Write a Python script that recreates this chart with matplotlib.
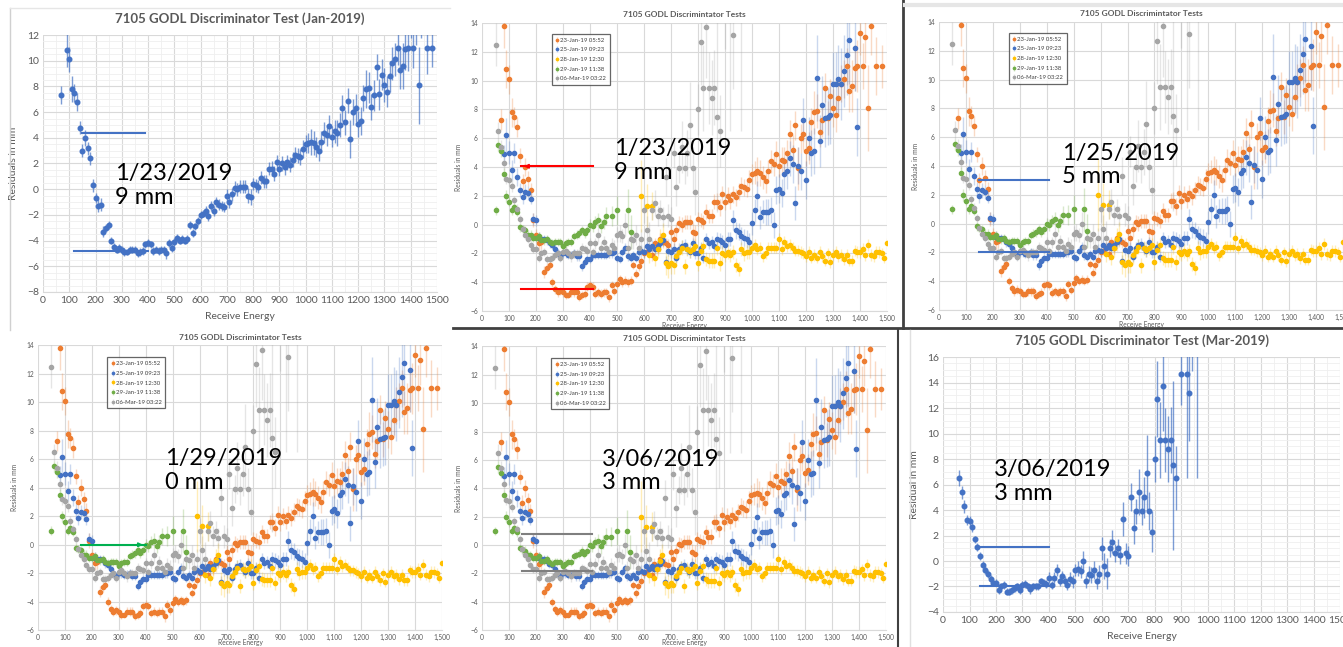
import matplotlib
matplotlib.use("Agg")
import matplotlib.pyplot as plt
from matplotlib.colors import to_rgba
from matplotlib.lines import Line2D
from matplotlib.ticker import FuncFormatter, MultipleLocator

plt.rcParams['font.family'] = ['Lato', 'DejaVu Sans']

# ---------------------------------------------------------------- data (x, residual, error)
jan23 = [(70,7.3,0.7),(80,13.8,1.5),(90,10.8,1.3),(100,10.1,1.0),(110,7.8,1.0),(120,7.5,0.7),(130,6.8,0.7),
         (140,4.8,0.5),(150,3.0,0.5),(160,4.0,0.6),(170,3.2,0.5),(180,2.4,0.5),(190,0.3,0.5),(200,-0.7,0.4),
         (210,-1.3,0.5),(220,-1.2,0.5),(230,-3.3,0.4),(240,-3.0,0.3),(250,-2.8,0.3),(260,-4.0,0.3),(270,-4.5,0.3),
         (280,-4.7,0.3),(290,-4.6,0.3),(300,-4.7,0.3),(310,-4.9,0.3),(320,-4.9,0.2),(330,-4.7,0.3),(340,-4.7,0.3),
         (350,-4.7,0.3),(360,-5.0,0.3),(370,-4.9,0.3),(380,-4.8,0.3),(390,-4.3,0.3),(400,-4.2,0.3),(410,-4.3,0.3),
         (420,-4.8,0.3),(430,-4.7,0.3),(440,-4.8,0.3),(450,-4.7,0.3),(460,-4.7,0.3),(470,-5.0,0.4),(480,-4.2,0.3),
         (490,-4.6,0.3),(500,-4.1,0.3),(510,-3.8,0.3),(520,-4.0,0.3),(530,-3.9,0.3),(540,-4.0,0.3),(550,-3.9,0.3),
         (560,-2.8,0.3),(570,-3.4,0.3),(580,-2.9,0.3),(590,-2.5,0.3),(600,-2.0,0.3),(610,-1.9,0.3),(620,-1.7,0.4),
         (630,-2.1,0.4),(640,-1.3,0.4),(650,-1.7,0.4),(660,-1.0,0.4),(670,-1.2,0.4),(680,-1.3,0.4),(690,-1.4,0.4),
         (700,-0.5,0.5),(710,-1.0,0.5),(720,-0.4,0.5),(730,0.1,0.5),(740,0.0,0.5),(750,0.2,0.5),(760,0.2,0.5),
         (770,0.2,0.5),(780,-0.5,0.6),(790,-0.6,0.6),(800,0.4,0.5),(810,0.3,0.5),(820,0.2,0.5),(830,0.9,0.5),
         (840,0.6,0.5),(850,0.6,0.5),(860,1.6,0.5),(870,1.6,0.6),(880,1.2,0.6),(890,2.1,0.6),(900,1.6,0.6),
         (910,2.0,0.6),(920,1.7,0.6),(930,2.1,0.6),(940,1.9,0.6),(950,2.3,0.6),(960,2.7,0.6),(970,2.6,0.6),
         (980,2.5,0.6),(990,3.1,0.7),(1000,3.5,0.7),(1010,3.6,0.8),(1020,3.7,1.0),(1030,3.6,0.9),(1040,3.3,0.8),
         (1050,3.0,0.8),(1060,3.7,0.8),(1070,4.4,0.8),(1080,4.2,0.8),(1090,4.9,0.9),(1100,4.1,0.8),(1110,4.5,0.9),
         (1120,4.4,1.0),(1130,5.0,0.9),(1140,6.3,1.0),(1150,5.2,1.0),(1160,6.9,1.0),(1170,3.9,1.5),(1180,6.0,1.0),
         (1190,6.3,1.1),(1200,5.1,1.0),(1210,5.3,1.1),(1220,7.1,1.0),(1230,7.8,1.5),(1240,7.9,1.2),(1250,6.4,1.0),
         (1260,7.3,1.2),(1270,9.5,1.0),(1280,7.4,1.2),(1290,8.9,1.2),(1300,8.1,1.3),(1310,7.6,1.2),(1320,8.8,1.2),
         (1330,9.8,1.3),(1340,10.1,1.3),(1350,11.0,1.3),(1360,9.3,1.5),(1370,9.6,1.8),(1380,10.9,1.6),
         (1390,11.0,1.8),(1400,13.3,1.5),(1410,11.0,1.6),(1420,13.0,1.8),(1430,8.1,3.0),(1440,13.8,2.0),
         (1460,11.0,2.0),(1480,11.0,1.5)]

jan25 = [(80,4.9,0.6),(90,6.2,1.2),(100,5.0,0.8),(110,3.8,0.7),(120,5.0,0.7),(130,3.3,0.6),(140,2.4,0.5),
         (150,1.9,0.5),(160,2.3,0.5),(170,2.2,0.5),(180,1.8,0.4),(190,0.4,0.4),(200,0.3,0.4),(210,-0.9,0.4),
         (220,-1.0,0.3),(230,-1.0,0.3),(240,-1.1,0.3),(250,-1.3,0.3),(260,-1.4,0.3),(270,-1.7,0.3),(280,-2.0,0.3),
         (290,-2.2,0.3),(300,-2.0,0.3),(310,-2.0,0.3),(320,-2.1,0.3),(330,-2.1,0.3),(340,-2.0,0.3),(350,-2.2,0.3),
         (360,-2.2,0.3),(370,-2.9,0.3),(380,-2.6,0.3),(390,-2.4,0.3),(400,-2.4,0.3),(410,-2.1,0.3),(420,-2.1,0.3),
         (430,-2.1,0.3),(440,-2.1,0.3),(450,-2.1,0.3),(460,-2.1,0.3),(470,-2.0,0.3),(480,-2.0,0.3),(490,-1.9,0.3),
         (500,-2.3,0.3),(510,-2.4,0.3),(520,-1.9,0.3),(530,-1.6,0.3),(540,-2.2,0.3),(550,-2.3,0.3),(560,-2.1,0.3),
         (570,-2.3,0.3),(580,-1.9,0.4),(590,-1.8,0.4),(600,-1.9,0.4),(610,-1.5,0.4),(620,-1.7,0.4),(630,-1.5,0.4),
         (640,-1.7,0.4),(650,-1.5,0.4),(660,-1.3,0.4),(670,-1.1,0.4),(680,-2.6,0.4),(690,-1.8,0.4),(700,-1.9,0.4),
         (710,-1.7,0.4),(720,-2.3,0.4),(730,-1.7,0.4),(740,-1.5,0.4),(750,-1.4,0.4),(760,-1.7,0.4),(770,-1.9,0.4),
         (780,-1.3,0.4),(790,-2.0,0.4),(800,-2.0,0.4),(810,-1.6,0.4),(820,-2.3,0.4),(830,-1.0,0.4),(840,-1.3,0.4),
         (850,-1.2,0.4),(860,-1.5,0.4),(870,-1.0,0.5),(880,-1.1,0.5),(890,-1.2,0.5),(900,-1.4,0.5),(910,-1.0,0.5),
         (920,-1.0,0.5),(930,0.3,0.7),(940,-0.4,0.6),(950,-0.5,0.6),(960,-0.8,0.6),(970,-0.9,0.6),(980,-1.0,0.6),
         (990,-1.2,0.6),(1000,0.1,0.8),(1010,1.0,0.8),(1020,2.0,1.0),(1030,0.5,0.8),(1040,0.9,0.8),(1050,0.9,0.9),
         (1060,0.9,0.9),(1070,1.0,0.9),(1080,0.0,0.9),(1090,2.4,1.0),(1100,2.5,1.0),(1110,2.2,1.0),(1120,3.5,1.2),
         (1130,3.7,1.2),(1140,4.6,1.2),(1150,4.2,1.3),(1160,1.5,1.2),(1170,4.1,1.3),(1180,3.7,1.3),(1190,7.3,1.5),
         (1200,3.1,1.3),(1210,6.0,1.5),(1220,5.0,1.6),(1230,5.1,1.6),(1240,10.2,3.0),(1250,5.8,1.8),(1260,8.3,2.0),
         (1270,7.4,2.0),(1280,7.5,2.0),(1290,7.6,2.0),(1300,9.8,2.2),(1310,9.8,2.2),(1320,10.1,2.4),(1330,9.8,2.5),
         (1340,10.7,2.5),(1350,11.8,2.8),(1360,12.8,3.0),(1380,12.3,3.0),(1390,6.8,2.0)]

jan28 = [(590,2.0,2.5),(610,1.3,1.5),(620,-2.1,0.6),(630,1.3,1.0),(640,-2.3,0.6),(650,-1.7,0.6),(660,-1.1,0.8),
         (670,-0.7,0.8),(680,-2.7,0.8),(690,-2.9,0.8),(700,-2.7,0.7),(710,-2.8,0.6),(720,-2.2,0.6),(730,-1.9,0.5),
         (740,-1.6,0.5),(750,-2.9,0.5),(760,-1.7,0.5),(770,-1.8,0.5),(780,-1.7,0.5),(790,-1.5,0.5),(800,-2.7,0.5),
         (810,-1.8,0.5),(820,-1.5,0.5),(830,-2.4,0.5),(840,-2.5,0.5),(850,-2.5,0.5),(860,-2.5,0.5),(870,-1.6,0.5),
         (880,-2.7,0.5),(890,-2.0,0.5),(900,-2.1,0.5),(910,-1.9,0.5),(920,-2.1,0.5),(930,-1.9,0.5),(940,-2.8,0.5),
         (950,-3.1,0.5),(960,-1.7,0.5),(970,-2.0,0.5),(980,-1.9,0.5),(990,-1.9,0.5),(1000,-1.6,0.4),(1010,-1.4,0.4),
         (1020,-1.7,0.4),(1030,-1.6,0.4),(1040,-2.2,0.4),(1050,-2.0,0.4),(1060,-1.6,0.4),(1070,-1.6,0.4),
         (1080,-1.6,0.4),(1090,-1.6,0.4),(1100,-1.0,0.4),(1110,-1.7,0.4),(1120,-1.2,0.4),(1130,-1.5,0.4),
         (1140,-1.4,0.4),(1150,-1.6,0.4),(1160,-1.8,0.4),(1170,-1.8,0.4),(1180,-1.9,0.4),(1190,-2.0,0.4),
         (1200,-2.2,0.4),(1210,-1.9,0.4),(1220,-2.3,0.4),(1230,-2.1,0.4),(1240,-2.3,0.4),(1250,-1.9,0.4),
         (1260,-2.2,0.4),(1270,-2.5,0.4),(1280,-2.0,0.4),(1290,-2.6,0.4),(1300,-2.1,0.4),(1310,-1.9,0.4),
         (1320,-2.2,0.4),(1330,-2.1,0.4),(1340,-2.4,0.4),(1350,-2.1,0.4),(1360,-2.5,0.4),(1370,-2.5,0.4),
         (1380,-1.8,0.4),(1390,-1.9,0.4),(1400,-1.9,0.4),(1410,-1.7,0.4),(1420,-2.1,0.4),(1430,-1.4,0.4),
         (1440,-2.1,0.4),(1450,-2.2,0.4),(1460,-1.9,0.4),(1470,-1.9,0.4),(1480,-2.0,0.4),(1490,-2.3,0.4),
         (1500,-1.3,0.4)]

jan29 = [(50,1.0,0.3),(60,5.5,0.4),(70,5.1,0.4),(80,3.5,0.4),(90,2.0,0.4),(100,1.6,0.3),(110,1.0,0.3),
         (120,1.2,0.3),(130,0.9,0.3),(140,-0.2,0.3),(150,-0.3,0.3),(160,-0.4,0.3),(170,-0.7,0.3),(180,-0.7,0.3),
         (190,-0.9,0.3),(200,-0.9,0.3),(210,-0.8,0.3),(220,-1.1,0.3),(230,-1.1,0.3),(240,-1.0,0.3),(250,-1.2,0.3),
         (260,-1.3,0.3),(270,-1.2,0.3),(280,-1.2,0.3),(290,-1.2,0.3),(300,-1.5,0.3),(310,-1.3,0.3),(320,-1.2,0.3),
         (330,-1.2,0.3),(340,-0.8,0.3),(350,-0.7,0.3),(360,-0.6,0.3),(370,-0.4,0.3),(380,-0.6,0.3),(390,-0.4,0.3),
         (400,0.0,0.4),(410,-0.1,0.4),(420,0.2,0.4),(430,0.3,0.5),(440,-0.1,0.5),(450,0.2,0.5),(460,0.6,0.6),
         (480,0.6,0.7),(500,1.0,1.0),(540,1.0,1.5),(550,-0.5,1.2)]

mar06 = [(50,12.5,1.5),(60,6.5,0.6),(70,5.4,0.5),(80,4.3,0.5),(90,3.2,0.4),(100,3.1,0.4),(110,2.7,0.4),
         (120,1.7,0.3),(130,1.1,0.3),(140,0.4,0.3),(150,-0.3,0.3),(160,-0.7,0.3),(170,-1.0,0.3),(180,-1.4,0.3),
         (190,-1.7,0.3),(200,-1.7,0.3),(210,-2.3,0.3),(220,-2.0,0.3),(230,-1.9,0.3),(240,-2.4,0.3),(250,-2.4,0.3),
         (260,-2.3,0.3),(270,-2.1,0.3),(280,-2.0,0.3),(290,-2.3,0.3),(300,-1.9,0.3),(310,-1.8,0.3),(320,-2.0,0.3),
         (330,-2.2,0.4),(340,-2.0,0.3),(350,-2.0,0.3),(360,-2.0,0.3),(370,-1.6,0.3),(380,-1.7,0.3),(390,-1.8,0.3),
         (400,-1.3,0.4),(410,-1.9,0.3),(420,-1.3,0.4),(430,-0.7,0.5),(440,-1.6,0.4),(450,-1.2,0.4),(460,-1.6,0.4),
         (470,-1.9,0.4),(480,-1.4,0.5),(490,-1.6,0.5),(500,-0.7,0.5),(510,-0.6,0.6),(520,-0.8,0.5),(530,0.0,0.8),
         (540,-1.6,0.5),(550,-1.0,0.6),(560,-1.1,0.6),(570,-0.7,0.7),(580,-1.6,0.6),(590,-1.0,0.7),(600,1.0,0.9),
         (610,-0.4,1.0),(620,-1.0,1.2),(630,1.0,0.7),(640,1.5,0.9),(650,0.6,0.7),(660,1.0,0.7),(670,0.5,0.7),
         (680,3.3,1.3),(690,0.6,0.8),(700,0.4,0.8),(710,5.0,1.1),(720,2.6,1.3),(730,3.9,1.0),(740,5.4,1.8),
         (750,3.9,1.1),(760,5.0,1.6),(770,6.9,3.0),(780,3.9,1.5),(790,2.3,1.6),(800,8.0,1.8),(810,12.7,3.0),
         (820,9.5,3.0),(830,13.7,3.5),(840,9.5,2.5),(850,8.8,2.6),(860,9.5,2.6),(870,7.5,6.6),(880,6.5,2.5),
         (900,14.7,2.5),(920,14.7,8.2),(930,13.2,3.8),(940,17.5,2.6),(960,19.0,12.5)]

series_labels = ["23-Jan-19 05:52", "25-Jan-19 09:23", "28-Jan-19 12:30", "29-Jan-19 11:38", "06-Mar-19 03:22"]
series_colors = ["#ED7D31", "#4472C4", "#FFC000", "#70AD47", "#A5A5A5"]
all_series = [jan23, jan25, jan28, jan29, mar06]

# level lines drawn on each panel: (x_start, x_end, y)
p1_levels = [(150, 390, 4.4), (120, 400, -4.8)]
p2_levels = [(145, 410, 4.05), (145, 410, -4.5)]
p3_levels = [(150, 410, 3.05), (150, 410, -1.95)]
p4_levels = [(160, 400, 0.0)]
p5_levels = [(150, 410, 0.75), (150, 410, -1.8)]
p6_levels = [(130, 400, 1.1), (140, 400, -1.95)]

GRID = "#d9d9d9"
TXT = "#595959"

fig = plt.figure(figsize=(13.43, 6.47), dpi=100)


def style(ax, ylim, yticks_step, fs, commas, minor):
    ax.set_xlim(0, 1500)
    ax.set_ylim(*ylim)
    ax.xaxis.set_major_locator(MultipleLocator(100))
    ax.yaxis.set_major_locator(MultipleLocator(yticks_step))
    if commas:
        ax.xaxis.set_major_formatter(FuncFormatter(lambda v, p: f"{v:,.0f}"))
    if minor:
        ax.xaxis.set_minor_locator(MultipleLocator(50))
        ax.yaxis.set_minor_locator(MultipleLocator(0.5))
        ax.grid(which="minor", color="#efefef", lw=0.6)
    ax.grid(which="major", color=GRID, lw=0.8)
    ax.set_axisbelow(True)
    for s in ["top", "right", "left"]:
        ax.spines[s].set_visible(False)
    ax.spines["bottom"].set_color(GRID)
    ax.tick_params(which="both", length=0, labelsize=fs, colors=TXT, pad=3)


def draw_levels(ax, levels, color, arrow=None):
    for x0, x1, y in levels:
        ax.plot([x0, x1], [y, y], color=color, lw=1.5, zorder=5)
    if arrow == "left":
        x0, x1, y = levels[0]
        ax.annotate("", xy=(x0, y), xytext=(x0 + 30, y),
                    arrowprops=dict(arrowstyle="-|>", color=color, lw=1.2, mutation_scale=6), zorder=6)
    if arrow == "right":
        x0, x1, y = levels[0]
        ax.annotate("", xy=(x1, y), xytext=(x1 - 30, y),
                    arrowprops=dict(arrowstyle="-|>", color=color, lw=1.2, mutation_scale=6), zorder=6)


def single_panel(rect, data, ylim, title, ylabel, levels, note, note_pos):
    ax = fig.add_axes(rect)
    x, y, e = zip(*data)
    ax.errorbar(x, y, yerr=e, fmt="o", ms=3.3, color="#4472C4",
                ecolor=to_rgba("#4472C4", 0.7), elinewidth=1.0, capsize=0, zorder=3)
    style(ax, ylim, 2, 7.5, False, True)
    ax.set_title(title, fontsize=9.5, color=TXT, fontweight="bold", pad=9)
    ax.set_ylabel(ylabel, fontsize=7.5, color=TXT, labelpad=6)
    ax.set_xlabel("Receive Energy", fontsize=7.5, color=TXT, labelpad=5)
    draw_levels(ax, levels, "#4472C4")
    ax.text(note_pos[0], note_pos[1], note, transform=ax.transAxes, fontsize=17,
            va="top", ha="left", linespacing=1.15, zorder=7)
    return ax


def multi_panel(rect, levels, lcolor, note, note_pos, leg_pos, arrow=None, xpad=0):
    ax = fig.add_axes(rect)
    for data, col, lab in zip(all_series, series_colors, series_labels):
        x, y, e = zip(*data)
        ax.errorbar(x, y, yerr=e, fmt="o", ms=3.0, color=col, ecolor=to_rgba(col, 0.28),
                    elinewidth=1.0, capsize=0, label=lab, zorder=3)
    style(ax, (-6, 14), 2, 4.8, True, False)
    ax.set_title("7105 GODL Discrimintator Tests", fontsize=6, color=TXT, fontweight="bold", pad=4)
    ax.set_ylabel("Residuals in mm", fontsize=4.8, color=TXT, labelpad=6)
    ax.set_xlabel("Receive Energy", fontsize=4.8, color=TXT, labelpad=xpad)
    leg = ax.legend(loc="upper left", bbox_to_anchor=leg_pos, fontsize=4.3, frameon=True,
                    fancybox=False, edgecolor="#404040", handlelength=0.5, handletextpad=0.3,
                    borderpad=0.6, labelspacing=0.75, markerscale=0.55, borderaxespad=0)
    leg.get_frame().set_linewidth(0.9)
    for t in leg.get_texts():
        t.set_color("#404040")
    draw_levels(ax, levels, lcolor, arrow)
    ax.text(note_pos[0], note_pos[1], note, transform=ax.transAxes, fontsize=17,
            va="top", ha="left", linespacing=1.15, zorder=7)
    return ax


single_panel([0.0320, 0.5487, 0.2934, 0.3972], jan23, (-8, 12),
             "7105 GODL Discriminator Test (Jan-2019)", "Residuals in mm",
             p1_levels, "1/23/2019\n9 mm", (0.183, 0.50))

multi_panel([0.3589, 0.5193, 0.3016, 0.4451], p2_levels, "#FF0000",
            "1/23/2019\n9 mm", (0.326, 0.60), (0.173, 0.962), arrow="left")
multi_panel([0.6992, 0.5209, 0.3008, 0.4451], p3_levels, "#4472C4",
            "1/25/2019\n5 mm", (0.304, 0.58), (0.173, 0.962))
multi_panel([0.0283, 0.0260, 0.3008, 0.4400], p4_levels, "#00B050",
            "1/29/2019\n0 mm", (0.314, 0.64), (0.172, 0.958), arrow="right", xpad=-1.5)
multi_panel([0.3589, 0.0260, 0.3008, 0.4385], p5_levels, "#7F7F7F",
            "3/06/2019\n3 mm", (0.297, 0.64), (0.172, 0.958), xpad=-1.5)

single_panel([0.7022, 0.0541, 0.2956, 0.3941], mar06[1:], (-4, 16),
             "7105 GODL Discriminator Test (Mar-2019)", "Residual in mm",
             p6_levels, "3/06/2019\n3 mm", (0.128, 0.60))

# screenshot borders
W, H = 1343, 647
def fig_line(x0, y0, x1, y1, color, lw):
    fig.add_artist(Line2D([x0 / W, x1 / W], [1 - y0 / H, 1 - y1 / H], color=color, lw=lw))

fig_line(10, 8, 10, 330, "#d0d0d0", 1.0)
fig_line(10, 8, 450, 8, "#e6e6e6", 1.0)
fig_line(903, 0, 903, 328, "#404040", 2.0)
fig_line(453, 328, 1343, 328, "#404040", 2.0)
fig_line(898, 330, 898, 647, "#404040", 1.5)
fig_line(910, 330, 910, 647, "#e0e0e0", 1.0)
fig_line(905, 5, 1343, 5, "#e6e6e6", 3.0)

fig.savefig("out.png", dpi=100)
